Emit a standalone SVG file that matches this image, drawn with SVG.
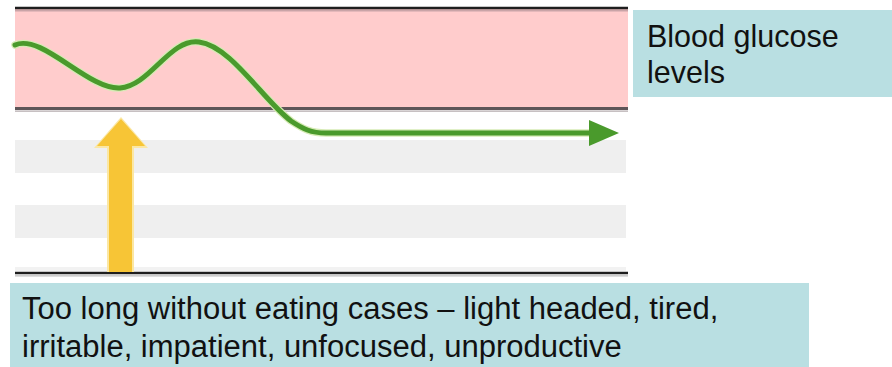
<svg xmlns="http://www.w3.org/2000/svg" width="892" height="367" viewBox="0 0 892 367">
  <style>
    .label { font-family: "Liberation Sans", Arial, sans-serif; font-size: 30.5px; fill: #111; }
    .label.wide { font-size: 31px; }
    .box { fill: #B9DFE2; }
    .stripe { fill: #EFEFEF; }
    .rule { stroke: #1e1e1e; stroke-width: 2.5; }
    .glucose { fill: none; stroke: #4A9A2C; stroke-width: 5; stroke-linecap: round; stroke-linejoin: round; }
    .glucose-halo { fill: none; stroke: #D6EBB5; stroke-width: 7.5; stroke-linecap: round; stroke-linejoin: round; }
  </style>

  <rect x="0" y="0" width="892" height="367" fill="#FFFFFF"/>

  <!-- chart background: target band and shaded rows -->
  <g id="chart">
    <rect x="15" y="9" width="613" height="100" fill="#FFCCCC"/>
    <line x1="15" y1="10.5" x2="628" y2="10.5" stroke="#C9A4A7" stroke-width="2"/>
    <line class="rule" x1="15" y1="8" x2="628" y2="8"/>
    <line x1="15" y1="108.5" x2="628" y2="108.5" stroke="#5E5558" stroke-width="3"/>
    <line x1="15" y1="111.2" x2="628" y2="111.2" stroke="#B5ABAE" stroke-width="1.2"/>
    <rect class="stripe" x="15" y="140" width="611" height="33"/>
    <rect class="stripe" x="15" y="205" width="611" height="33"/>
    <rect x="15" y="267" width="611" height="4" fill="#F2F2F2"/>
    <line class="rule" x1="15" y1="273" x2="628" y2="273"/>
    <line x1="15" y1="275.8" x2="628" y2="275.8" stroke="#BDBDBD" stroke-width="1.2"/>
  </g>

  <g id="connectors">
    <!-- glucose trace -->
    <path class="glucose-halo" d="M15,45 C42,33 88,90 120,88 C150,86 170,38 199,42 C231,46 263,100 291,121 C303,129 311,133 326,133 L592,133"/>
    <path class="glucose" d="M15,45 C42,33 88,90 120,88 C150,86 170,38 199,42 C231,46 263,100 291,121 C303,129 311,133 326,133 L592,133"/>
    <polygon points="589,120 619,133 589,146" fill="#4A9A2C"/>
    <!-- fasting arrow -->
    <polygon points="107,272 107,148 94,148 121,117 148,148 134,148 134,272" fill="#FBE7A3"/>
    <polygon points="109,272 109,146 97,146 121,119 145,146 132,146 132,272" fill="#F7C536"/>
  </g>

  <g id="glucose-label">
    <rect class="box" x="633" y="10" width="259" height="87"/>
    <text class="label" x="647" y="47">Blood glucose</text>
    <text class="label" x="647" y="83">levels</text>
  </g>

  <g id="fasting-label">
    <rect class="box" x="10" y="283" width="799" height="84"/>
    <text class="label wide" x="22" y="319">Too long without eating cases – light headed, tired,</text>
    <text class="label wide" x="22" y="357">irritable, impatient, unfocused, unproductive</text>
  </g>
</svg>
